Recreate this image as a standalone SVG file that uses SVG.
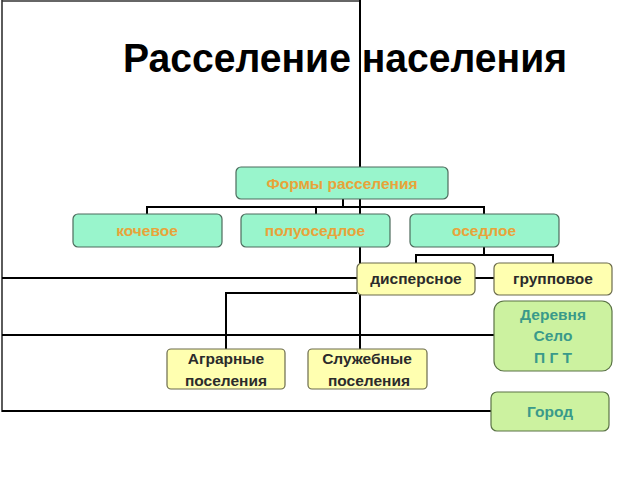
<svg xmlns="http://www.w3.org/2000/svg" width="640" height="480" viewBox="0 0 640 480">
<style>
.frame{stroke:#333;stroke-width:1.6;fill:none}
.conn{stroke:#000;stroke-width:2;fill:none}
.mint{fill:#99f5cc;stroke:#4d6b5c;stroke-width:1.2}
.yel{fill:#ffffb0;stroke:#6b6b4d;stroke-width:1.2}
.grn{fill:#ccf2a0;stroke:#5a7345;stroke-width:1.2}
text{font-family:"Liberation Sans",Arial,sans-serif;font-weight:bold;text-anchor:middle}
.to{fill:#e8a33a;font-size:15.5px}
.td{fill:#2b2b2b;font-size:15.5px}
.tg{fill:#3a9a8a;font-size:15.5px}
.title{fill:#000;font-size:41px;text-anchor:start}
</style>
<rect width="640" height="480" fill="#fff"/>
<g id="frame">
<line class="frame" x1="2" y1="1" x2="360" y2="1"/>
<line class="frame" x1="2" y1="0" x2="2" y2="412"/>
</g>
<text class="title" x="123" y="72" textLength="444" lengthAdjust="spacingAndGlyphs">Расселение населения</text>
<g id="connectors">
<line class="conn" x1="360" y1="0" x2="360" y2="349"/>
<line class="conn" x1="2" y1="278" x2="357" y2="278"/>
<polyline class="conn" points="357,293 226,293 226,349"/>
<line class="conn" x1="2" y1="335" x2="494" y2="335"/>
<line class="conn" x1="2" y1="411" x2="491" y2="411"/>
<line class="conn" x1="475" y1="278" x2="494" y2="278"/>
<polyline class="conn" points="343,199 343,207"/>
<polyline class="conn" points="147,214 147,207 484,207 484,214"/>
<line class="conn" x1="316" y1="207" x2="316" y2="214"/>
<line class="conn" x1="484" y1="247" x2="484" y2="255"/>
<polyline class="conn" points="416,263 416,255 553,255 553,263"/>
</g>
<g id="formy"><rect class="mint" x="236" y="167" width="212" height="32" rx="5"/><text class="to" x="342" y="189">Формы расселения</text></g>
<g id="kochevoe"><rect class="mint" x="73" y="214" width="149" height="33" rx="5"/><text class="to" x="147" y="236">кочевое</text></g>
<g id="poluosedloe"><rect class="mint" x="241" y="214" width="149" height="33" rx="5"/><text class="to" x="315" y="236">полуоседлое</text></g>
<g id="osedloe"><rect class="mint" x="410" y="214" width="149" height="33" rx="5"/><text class="to" x="484" y="236">оседлое</text></g>
<g id="dispersnoe"><rect class="yel" x="357" y="263" width="118" height="32" rx="5"/><text class="td" x="416" y="284">дисперсное</text></g>
<g id="gruppovoe"><rect class="yel" x="494" y="263" width="118" height="32" rx="5"/><text class="td" x="553" y="284">групповое</text></g>
<g id="derevnya"><rect class="grn" x="494" y="301" width="118" height="70" rx="10"/><text class="tg" x="553" y="320">Деревня</text><text class="tg" x="553" y="341">Село</text><text class="tg" x="553" y="363">П Г Т</text></g>
<g id="agrarnye"><rect class="yel" x="167" y="349" width="118" height="40" rx="4"/><text class="td" x="226" y="364">Аграрные</text><text class="td" x="226" y="386">поселения</text></g>
<g id="sluzhebnye"><rect class="yel" x="308" y="349" width="119" height="40" rx="4"/><text class="td" x="367" y="364">Служебные</text><text class="td" x="369" y="386">поселения</text></g>
<g id="gorod"><rect class="grn" x="491" y="392" width="118" height="39" rx="6"/><text class="tg" x="550" y="417">Город</text></g>
</svg>
